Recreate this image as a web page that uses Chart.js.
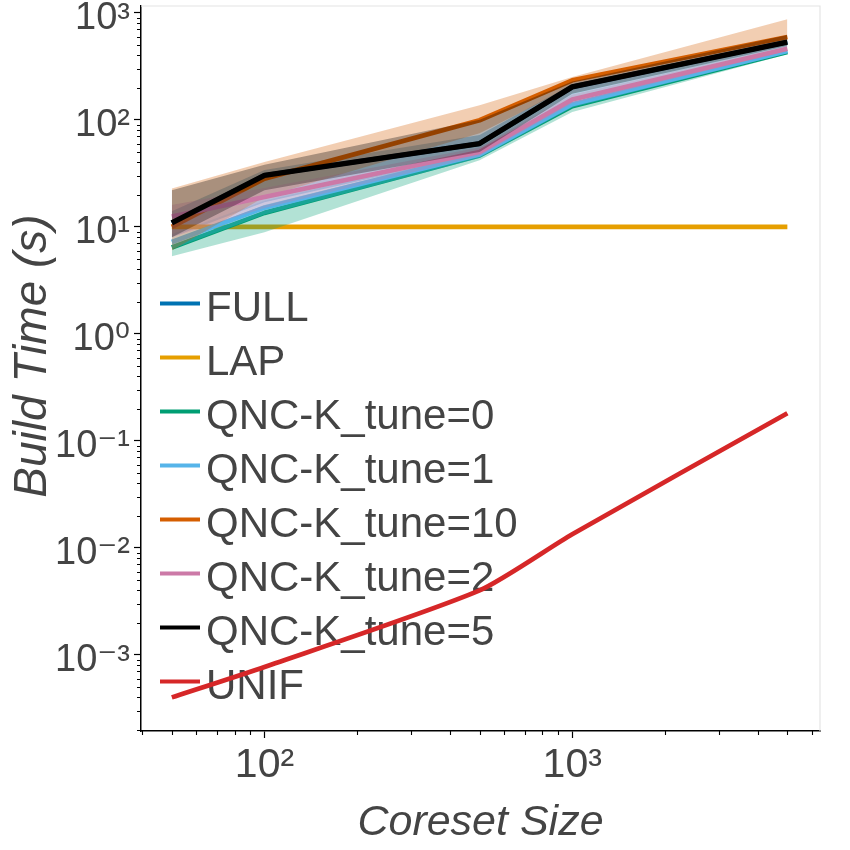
<!DOCTYPE html>
<html>
<head>
<meta charset="utf-8">
<script src="https://cdn.jsdelivr.net/npm/chart.js@4.4.0/dist/chart.umd.min.js"></script>
<style>
html,body{margin:0;padding:0;background:#ffffff;}
#c{display:block;width:850px;height:850px;}
</style>
</head>
<body>
<canvas id="c" width="850" height="850"></canvas>
<script>
// ---------------- data ----------------
const coresetSizes = [50, 100, 500, 1000, 5000];

const fullTime  = [10.9, 30.3, 60, 203, 533];
const fullLow   = [8, 17, 48, 150, 465];
const fullHigh  = [14, 34, 72, 215, 560];

const lapTime   = [10, 10, 10, 10, 10];

const qnc0Time  = [6.4, 13.5, 46.5, 134, 430];
const qnc0Low   = [5.3, 8.9, 41.8, 118, 410];
const qnc0High  = [7.5, 16, 50, 145, 450];

const qnc1Time  = [7.2, 15.1, 47.5, 140, 440];
const qnc1Low   = [6.2, 13, 44, 130, 420];
const qnc1High  = [8.5, 17.5, 51, 152, 460];

const qnc10Time = [10, 28.2, 99, 234, 594];
const qnc10Low  = [6, 19, 75, 205, 540];
const qnc10High = [22.8, 40.4, 137, 251, 870];

const qnc2Time  = [12.5, 19, 50, 155, 462];
const qnc2Low   = [8, 15, 46, 142, 440];
const qnc2High  = [16, 23, 55, 172, 490];

const qnc5Time  = [10.9, 30.3, 60, 203, 533];
const qnc5Low   = [8, 22, 50, 175, 490];
const qnc5High  = [22, 38, 100, 228, 620];

const unifTime  = [4.0e-4, 7.7e-4, 4.0e-3, 0.0134, 0.181];

const seriesNames = ['FULL', 'LAP', 'QNC-K_tune=0', 'QNC-K_tune=1', 'QNC-K_tune=10', 'QNC-K_tune=2', 'QNC-K_tune=5', 'UNIF'];

const yTickValues = [1e-3, 1e-2, 1e-1, 1, 10, 100, 1000];
const yTickLabels = ['10⁻³', '10⁻²', '10⁻¹', '10⁰', '10¹', '10²', '10³'];
const xTickValues = [100, 1000];
const xTickLabels = ['10²', '10³'];

const xTitle = 'Coreset Size';
const yTitle = 'Build Time (s)';

// ---------------- styles ----------------
const seriesColors = ['#0072B2', '#E69F00', '#009E73', '#56B4E9', '#D55E00', '#CC79A7', '#000000', '#D62728'];
const FONT = "'Liberation Sans', Arial, 'DejaVu Sans', sans-serif";
const TEXT = '#444444';

function hexA(hex, a) {
  const n = parseInt(hex.slice(1), 16);
  return `rgba(${(n >> 16) & 255},${(n >> 8) & 255},${n & 255},${a})`;
}
const pts = arr => coresetSizes.map((x, i) => ({x: x, y: arr[i]}));

const means = [fullTime, lapTime, qnc0Time, qnc1Time, qnc10Time, qnc2Time, qnc5Time, unifTime];
const lows  = [fullLow, null, qnc0Low, qnc1Low, qnc10Low, qnc2Low, qnc5Low, null];
const highs = [fullHigh, null, qnc0High, qnc1High, qnc10High, qnc2High, qnc5High, null];

const datasets = [];
let ord = 40;
means.forEach((m, s) => {
  const col = seriesColors[s];
  if (lows[s]) {
    const loIdx = datasets.length;
    datasets.push({label: seriesNames[s] + ' low', data: pts(lows[s]), borderColor: 'rgba(0,0,0,0)',
      borderWidth: 1, pointRadius: 0, fill: false, order: ord});
    datasets.push({label: seriesNames[s] + ' high', data: pts(highs[s]), borderColor: 'rgba(0,0,0,0)',
      borderWidth: 1, pointRadius: 0, backgroundColor: hexA(col, 0.3),
      fill: {target: loIdx}, order: ord});
    ord--;
  }
  const ds = {label: seriesNames[s], data: pts(m), borderColor: col,
    borderWidth: (s === 6) ? 5.4 : 4.7, pointRadius: 0, fill: false,
    borderJoinStyle: 'round', borderCapStyle: 'butt', order: ord};
  if (s === 7) { ds.tension = 0.22; }
  datasets.push(ds);
  ord--;
});

// minor ticks, frame, legend, y title
const decorPlugin = {
  id: 'decor',
  beforeDatasetsDraw(chart) {
    const {ctx, chartArea: a} = chart;
    ctx.save();
    ctx.strokeStyle = '#e4e4e4';
    ctx.lineWidth = 1.2;
    ctx.beginPath();
    ctx.moveTo(a.left, a.top);
    ctx.lineTo(a.right, a.top);
    ctx.lineTo(a.right, a.bottom);
    ctx.stroke();
    // legend
    const rowY0 = 303.5, rowStep = 54;
    ctx.font = '42px ' + FONT;
    ctx.textBaseline = 'alphabetic';
    ctx.textAlign = 'left';
    seriesNames.forEach((name, i) => {
      const y = rowY0 + i * rowStep;
      ctx.strokeStyle = seriesColors[i];
      ctx.lineWidth = 4.2;
      ctx.beginPath();
      ctx.moveTo(160, y);
      ctx.lineTo(200, y);
      ctx.stroke();
      ctx.fillStyle = TEXT;
      ctx.fillText(name, 206, y + 17);
    });
    ctx.restore();
  },
  afterDraw(chart) {
    const {ctx} = chart;
    const xs = chart.scales.x, ys = chart.scales.y;
    ctx.save();
    ctx.strokeStyle = '#000';
    ctx.lineWidth = 1.1;
    ctx.beginPath();
    for (let k = -5; k <= 4; k++) {
      for (let m = 2; m <= 9; m++) {
        const v = m * Math.pow(10, k);
        if (v >= ys.min && v <= ys.max) {
          const py = Math.round(ys.getPixelForValue(v)) + 0.5;
          ctx.moveTo(ys.right, py);
          ctx.lineTo(ys.right - 4, py);
        }
        if (v >= xs.min && v <= xs.max) {
          const px = Math.round(xs.getPixelForValue(v)) + 0.5;
          ctx.moveTo(px, xs.top);
          ctx.lineTo(px, xs.top + 4);
        }
      }
    }
    ctx.stroke();
    // y axis title
    ctx.translate(33, 356);
    ctx.rotate(-Math.PI / 2);
    ctx.font = 'italic 46px ' + FONT;
    ctx.fillStyle = TEXT;
    ctx.textAlign = 'center';
    ctx.textBaseline = 'middle';
    ctx.fillText(yTitle, 0, 0);
    ctx.restore();
  }
};

new Chart(document.getElementById('c'), {
  type: 'line',
  data: {datasets: datasets},
  plugins: [decorPlugin],
  options: {
    responsive: false,
    animation: false,
    devicePixelRatio: 1,
    layout: {padding: {top: 6, right: 30, left: 0, bottom: 0}},
    plugins: {legend: {display: false}, tooltip: {enabled: false}},
    elements: {point: {radius: 0}, line: {tension: 0}},
    scales: {
      x: {
        type: 'logarithmic', position: 'bottom', min: 39.7, max: 6383,
        afterBuildTicks: s => { s.ticks = xTickValues.map(v => ({value: v, major: true})); },
        afterFit: s => { s.height = 119; s.paddingLeft = 0; s.paddingRight = 0; },
        ticks: {autoSkip: false, maxRotation: 0, minRotation: 0, padding: 3, color: TEXT,
          font: {family: FONT, size: 41},
          callback: v => { const i = xTickValues.indexOf(v); return i >= 0 ? xTickLabels[i] : ''; }},
        grid: {drawOnChartArea: false, drawTicks: true, tickLength: 7, tickColor: '#000', tickWidth: 1.2},
        border: {display: true, color: '#000', width: 1.5},
        title: {display: true, text: xTitle, color: TEXT,
          font: {family: FONT, size: 43, style: 'italic', lineHeight: 1}, padding: {top: 0, bottom: 5}}
      },
      y: {
        type: 'logarithmic', position: 'left', min: 1.94e-4, max: 1158,
        afterBuildTicks: s => { s.ticks = yTickValues.map(v => ({value: v, major: true})); },
        afterFit: s => { s.width = 141; s.paddingTop = 0; s.paddingBottom = 0; },
        ticks: {autoSkip: false, padding: 4, labelOffset: 6, color: TEXT,
          font: {family: FONT, size: 38},
          callback: v => { const i = yTickValues.indexOf(v); return i >= 0 ? yTickLabels[i] : ''; }},
        grid: {drawOnChartArea: false, drawTicks: true, tickLength: 7, tickColor: '#000', tickWidth: 1.2},
        border: {display: true, color: '#000', width: 1.5},
        title: {display: false}
      }
    }
  }
});
</script>
</body>
</html>
